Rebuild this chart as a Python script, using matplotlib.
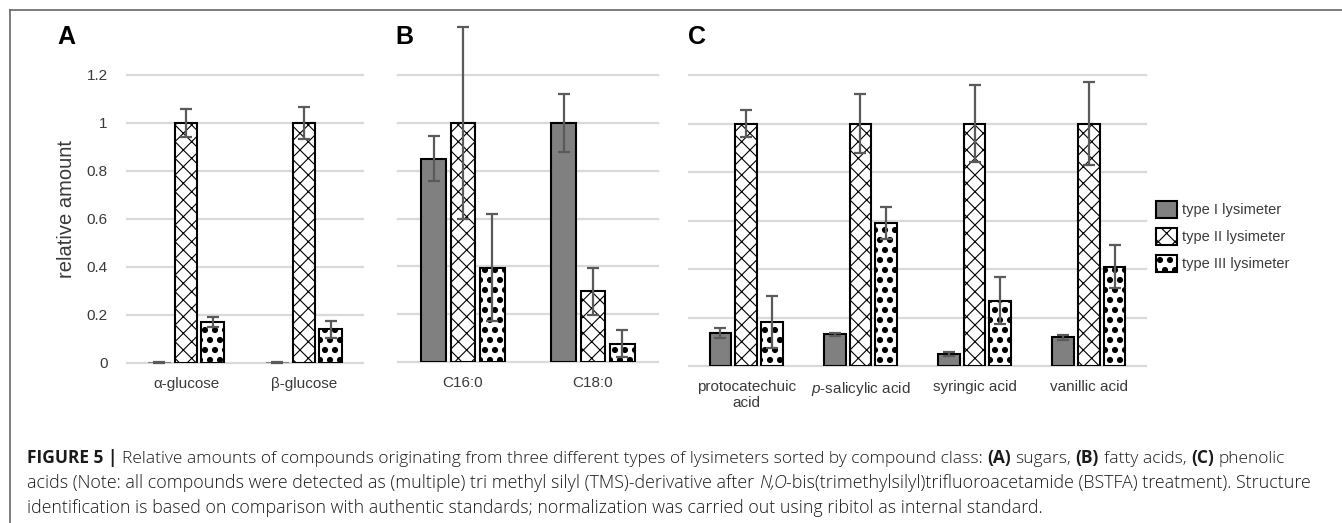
import matplotlib
matplotlib.use('Agg')
import matplotlib.pyplot as plt
import matplotlib.hatch as mhatch
from matplotlib.patches import Patch
from matplotlib.lines import Line2D
from matplotlib import font_manager as fm
import numpy as np

W, H = 1342, 523

# ---------------- data ----------------
series_labels = ['type I lysimeter', 'type II lysimeter', 'type III lysimeter']

cats_A = ['α-glucose', 'β-glucose']
typeI_A = [0.003, 0.003]
typeI_A_err = [0.002, 0.002]
typeII_A = [1.0, 1.0]
typeII_A_err = [0.058, 0.067]
typeIII_A = [0.17, 0.14]
typeIII_A_err = [0.022, 0.035]

cats_B = ['C16:0', 'C18:0']
typeI_B = [0.85, 1.0]
typeI_B_err = [0.095, 0.12]
typeII_B = [1.0, 0.295]
typeII_B_err = [0.40, 0.098]
typeIII_B = [0.395, 0.077]
typeIII_B_err = [0.225, 0.057]

cats_C = ['protocatechuic\nacid', r'$\it{p}$-salicylic acid', 'syringic acid', 'vanillic acid']
typeI_C = [0.135, 0.13, 0.05, 0.118]
typeI_C_err = [0.02, 0.005, 0.007, 0.01]
typeII_C = [1.0, 1.0, 1.0, 1.0]
typeII_C_err = [0.057, 0.12, 0.157, 0.17]
typeIII_C = [0.18, 0.59, 0.27, 0.41]
typeIII_C_err = [0.107, 0.066, 0.095, 0.088]

yticks = [0, 0.2, 0.4, 0.6, 0.8, 1.0, 1.2]
ytick_labels = ['0', '0.2', '0.4', '0.6', '0.8', '1', '1.2']
panel_letters = ['A', 'B', 'C']
ylabel = 'relative amount'

# ---------------- style ----------------
plt.rcParams['font.family'] = ['Liberation Sans', 'DejaVu Sans']
plt.rcParams['mathtext.fontset'] = 'custom'
plt.rcParams['mathtext.rm'] = 'Liberation Sans'
plt.rcParams['mathtext.it'] = 'Liberation Sans:italic'
plt.rcParams['hatch.linewidth'] = 0.8

# big filled dots for the type III pattern (num_rows must be even)
class BigDots(mhatch.Circles):
    size = 0.25
    filled = True

    def __init__(self, hatch, density):
        self.num_rows = hatch.count('.') * 10
        super().__init__(hatch, density)

mhatch._hatch_types = [BigDots if c is mhatch.SmallFilledCircles else c
                       for c in mhatch._hatch_types]

fills = ['#808080', 'white', 'white']
hatches = [None, 'xx', '.']
txt_color = '#3a3a3a'
err_color = '#5a5a5a'
grid_color = '#d9d9d9'
bw = 0.19
spacing = 0.225

fig = plt.figure(figsize=(W / 100, H / 100), dpi=100)


def px_axes(x0, x1, ytop, ybot):
    return fig.add_axes([x0 / W, 1 - ybot / H, (x1 - x0) / W, (ybot - ytop) / H])


def draw_panel(ax, cats, vals, errs, show_y):
    n = len(cats)
    x = np.arange(n)
    for j in range(3):
        xs = x + (j - 1) * spacing
        lw = [1.5 if v > 0.01 else 0 for v in vals[j]]
        ax.bar(xs, vals[j], width=bw, color=fills[j], edgecolor='black',
               linewidth=lw, hatch=hatches[j], zorder=2)
        eb = ax.errorbar(xs, vals[j], yerr=errs[j], fmt='none', ecolor=err_color,
                         elinewidth=1.6, capsize=4.5, capthick=1.6, zorder=3)
        for a in eb.get_children():
            a.set_clip_on(False)
    ax.set_xlim(-0.5, n - 0.5)
    ax.set_ylim(0, 1.2)
    ax.set_yticks(yticks)
    ax.set_yticklabels(ytick_labels if show_y else [])
    ax.set_xticks(x)
    ax.set_xticklabels(cats)
    ax.tick_params(length=0, labelsize=11, labelcolor=txt_color)
    ax.tick_params(axis='x', pad=10)
    ax.tick_params(axis='y', pad=14)
    for s in ax.spines.values():
        s.set_visible(False)
    ax.set_axisbelow(True)
    ax.grid(axis='y', color=grid_color, linewidth=1.6)
    ax.grid(axis='x', visible=False)
    for gl in ax.get_ygridlines():
        gl.set_clip_on(False)


axA = px_axes(127, 363, 75, 363)
axB = px_axes(398, 658, 75, 362)
axC = px_axes(689, 1146, 75, 366)

draw_panel(axA, cats_A, [typeI_A, typeII_A, typeIII_A],
           [typeI_A_err, typeII_A_err, typeIII_A_err], True)
draw_panel(axB, cats_B, [typeI_B, typeII_B, typeIII_B],
           [typeI_B_err, typeII_B_err, typeIII_B_err], False)
draw_panel(axC, cats_C, [typeI_C, typeII_C, typeIII_C],
           [typeI_C_err, typeII_C_err, typeIII_C_err], False)

# panel letters
for letter, xp in zip(panel_letters, [57, 395, 688]):
    fig.text(xp / W, 1 - 37.5 / H, letter, fontsize=18, fontweight='bold',
             ha='left', va='center', color='black')

# y label
fig.text(67 / W, 1 - 209 / H, ylabel, rotation=90, ha='center', va='center',
         fontsize=14.5, color=txt_color)

# legend
handles = [Patch(facecolor=fills[j], edgecolor='black', hatch=hatches[j],
                 linewidth=1.5, label=series_labels[j]) for j in range(3)]
leg = fig.legend(handles=handles, loc='upper left',
                 bbox_to_anchor=(1156 / W, 1 - 201 / H), frameon=False,
                 fontsize=10.5, handlelength=1.45, handleheight=1.45,
                 handletextpad=0.3, labelspacing=0.65, borderpad=0,
                 borderaxespad=0)
for t in leg.get_texts():
    t.set_color(txt_color)

# border (top and left)
fig.add_artist(Line2D([10 / W, 1], [1 - 10 / H, 1 - 10 / H], transform=fig.transFigure,
                      color='#666666', lw=1.2))
fig.add_artist(Line2D([10 / W, 10 / W], [1 - 10 / H, 0], transform=fig.transFigure,
                      color='#666666', lw=1.2))

# ---------------- caption ----------------
cap_family, cap_weight = 'Liberation Sans', 'normal'
for fam in ['Roboto', 'Open Sans', 'Lato', 'Inter']:
    try:
        p = fm.findfont(fm.FontProperties(family=fam, weight='light'),
                        fallback_to_default=False)
        if 'light' in p.lower():
            cap_family, cap_weight = fam, 'light'
            break
    except Exception:
        pass
cap_color = '#1a1a1a'

cap_lines = [
    [("FIGURE 5 |", 'b'),
     (" Relative amounts of compounds originating from three different types of lysimeters sorted by compound class: ", 'r'),
     ("(A)", 'b'), (" sugars, ", 'r'), ("(B)", 'b'), (" fatty acids, ", 'r'),
     ("(C)", 'b'), (" phenolic", 'r')],
    [("acids (Note: all compounds were detected as (multiple) tri methyl silyl (TMS)-derivative after ", 'r'),
     ("N,O", 'i'),
     ("-bis(trimethylsilyl)trifluoroacetamide (BSTFA) treatment). Structure", 'r')],
    [("identification is based on comparison with authentic standards; normalization was carried out using ribitol as internal standard.", 'r')],
]
cap_baselines = [463, 488, 513]
cap_line_ends = [1280, 1306, 1037]
cap_x0 = 27

renderer = fig.canvas.get_renderer()


def style(k):
    if k == 'b':
        return dict(family=cap_family, weight='bold')
    if k == 'i':
        return dict(family=cap_family, weight=cap_weight, style='italic')
    return dict(family=cap_family, weight=cap_weight)


def text_w(s, fs, k):
    t = fig.text(0, 0, s, fontsize=fs, **style(k))
    w = t.get_window_extent(renderer).width
    t.remove()
    return w


def layout_line(runs, fs, x0, yb, draw):
    sp = text_w('a a', fs, 'r') - text_w('aa', fs, 'r')
    x = x0
    for s, k in runs:
        lead = len(s) - len(s.lstrip(' '))
        trail = len(s) - len(s.rstrip(' '))
        core = s.strip(' ')
        x += lead * sp
        t = fig.text(x / W, 1 - yb / H, core, fontsize=fs, va='baseline', ha='left',
                     color=cap_color, **style(k))
        w = t.get_window_extent(renderer).width
        if not draw:
            t.remove()
        x += w + trail * sp
    return x


fs0 = 10.0
for runs, yb, xe in zip(cap_lines, cap_baselines, cap_line_ends):
    end0 = layout_line(runs, fs0, cap_x0, yb, False)
    fs = fs0 * (xe - cap_x0) / (end0 - cap_x0)
    layout_line(runs, fs, cap_x0, yb, True)

fig.savefig('out.png', dpi=100)
